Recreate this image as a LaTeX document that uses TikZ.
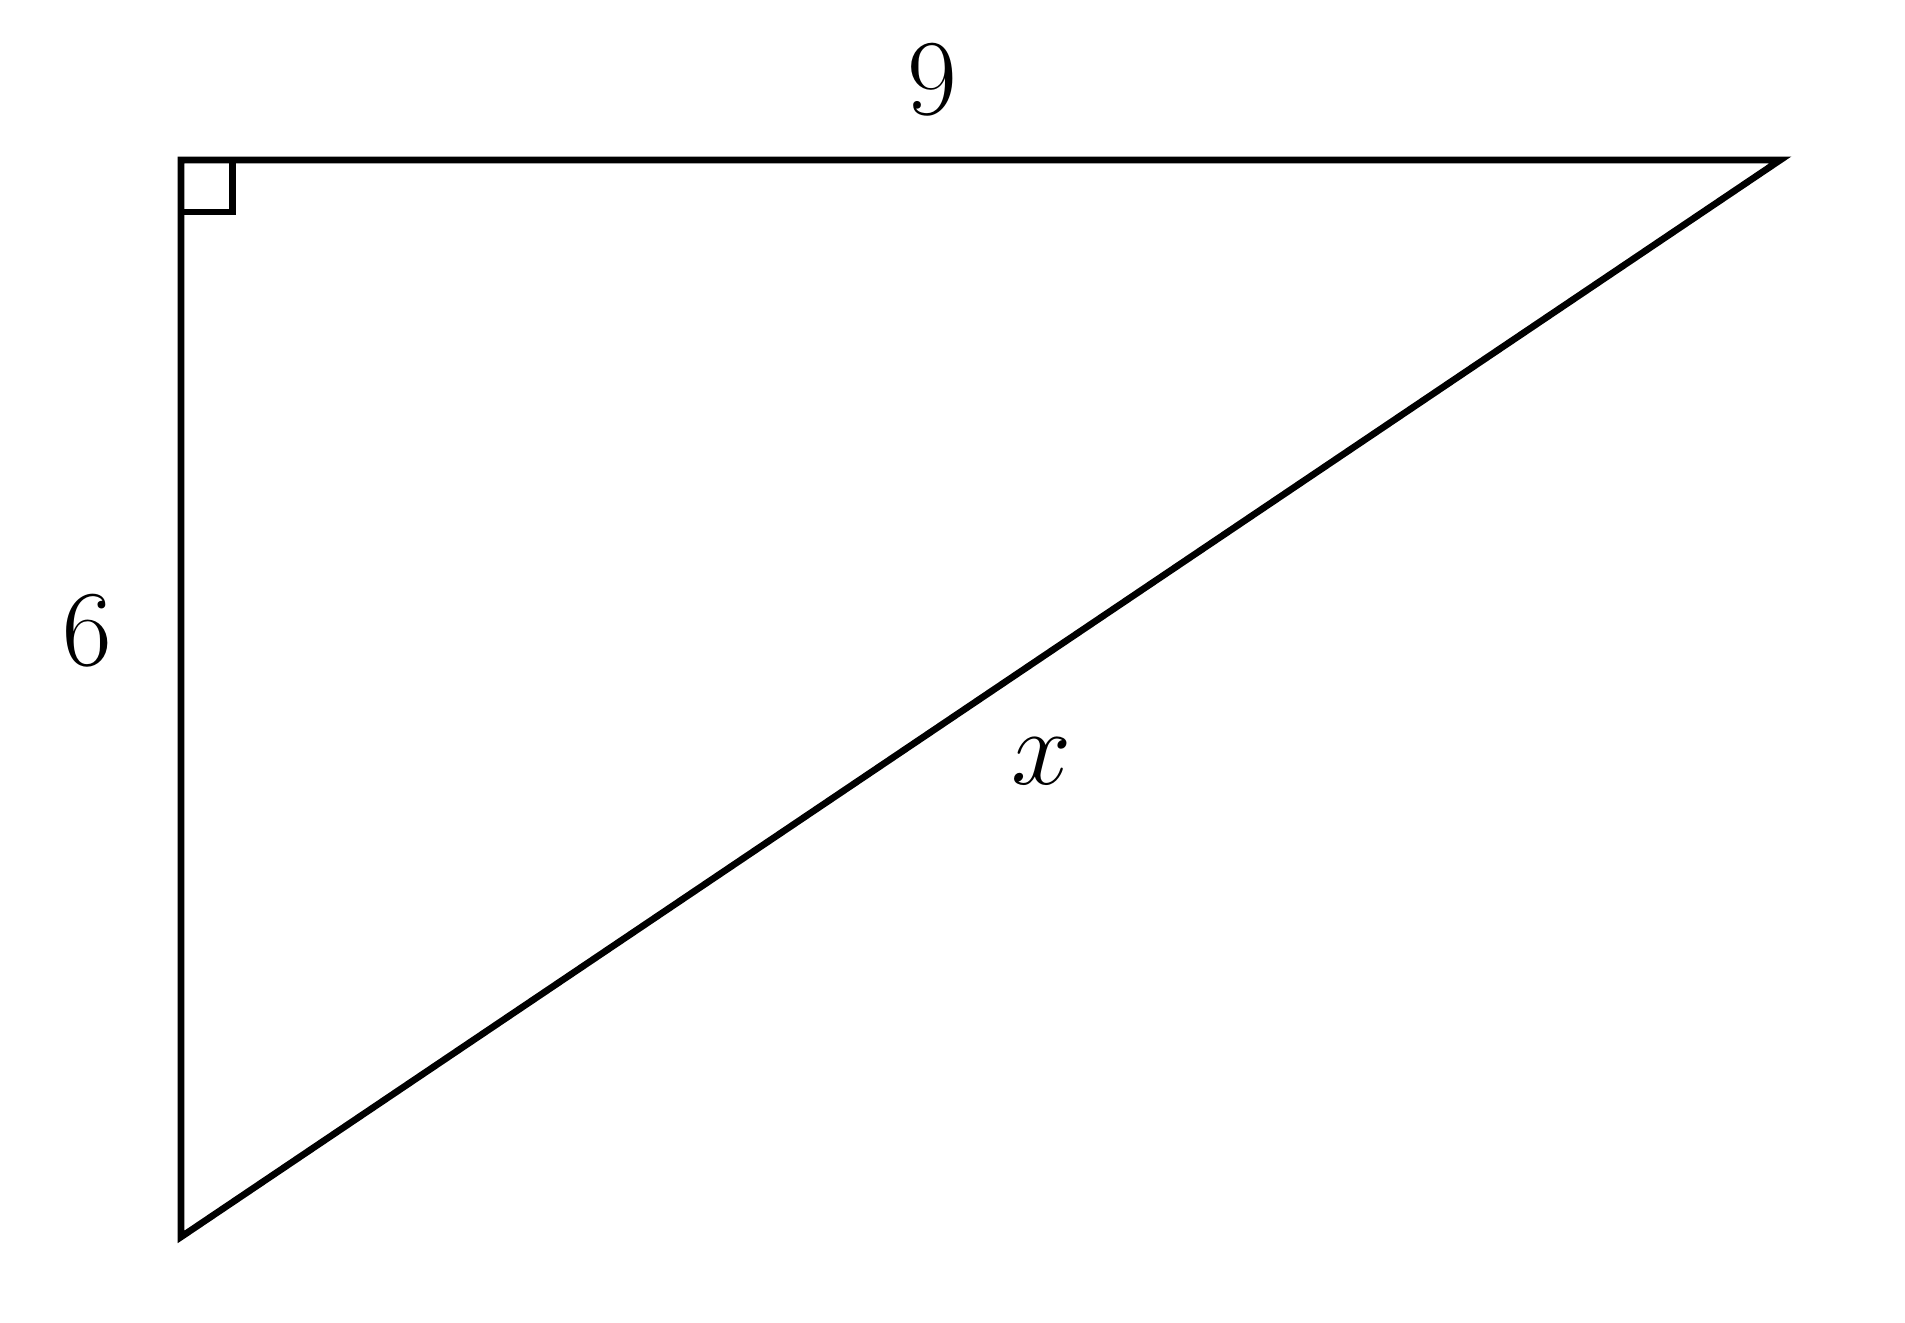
\documentclass[tikz,border=0pt]{standalone}
\usepackage{amsmath}
\usepackage{tikz}
\usetikzlibrary{positioning, calc}

\begin{document}
\begin{tikzpicture}[x=1cm, y=1.0101cm, line width=1.07pt, line join=miter,
                    lbl/.style={font=\fontsize{18.8}{22}\selectfont, inner sep=0pt}]

                        % Page frame
                        \useasboundingbox (-1.0186,-0.4794) rectangle (9.7017,6.891);

                        % Corners of the triangle
                        \coordinate (bot) at (0,0);
                        \coordinate (rgt) at (0,6);
                        \coordinate (tip) at (9,6);

                        % Sides
                        \draw (bot) -- (rgt) -- (tip) -- cycle;

                        % Right angle mark
                        \coordinate (m1) at ($(rgt)+(0,-0.29)$);
                        \coordinate (m2) at ($(rgt)+(0.29,-0.29)$);
                        \coordinate (m3) at ($(rgt)+(0.29,0)$);
                        \draw (m1) -- (m2) -- (m3);

                        % Side labels
                        \node[lbl] (top) at (4.23,6.446) {$9$};
                        \node[lbl] (left) at (-0.529,3.38) {$6$};
                        \node[lbl] (hyp) at (4.84,2.65) {$x$};
                \end{tikzpicture}
\end{document}
